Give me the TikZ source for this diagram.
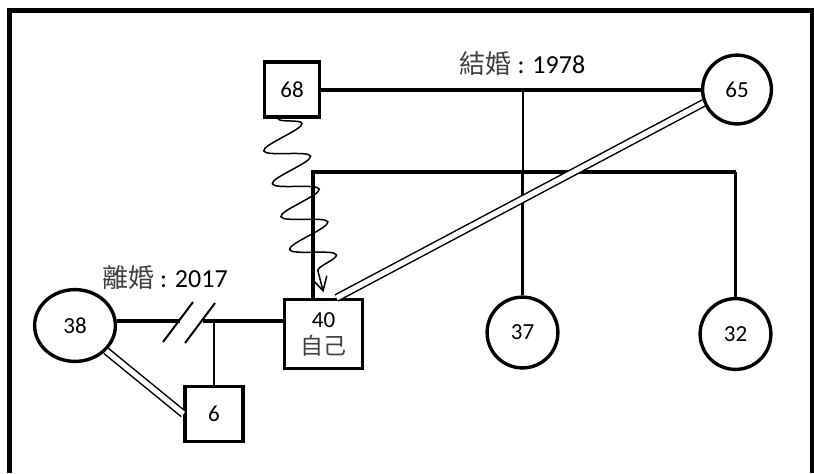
\documentclass[tikz,border=0pt]{standalone}
\usepackage{fontspec}
\setmainfont{Carlito}
\newfontfamily\cjk{Noto Sans CJK TC}
\usetikzlibrary{arrows.meta,shapes.geometric,decorations.pathmorphing}
\tikzset{
  male/.style={draw, line width=1.7pt, inner sep=0pt, align=center, font=\fontsize{11.5}{13.5}\selectfont},
  female/.style={draw, circle, line width=1.7pt, inner sep=0pt, minimum size=35.4pt, font=\fontsize{11.5}{13.5}\selectfont},
  rel/.style={line width=1.7pt},
  kid/.style={line width=1pt},
  bond/.style={double, double distance=2.6pt, line width=0.75pt},
  wavy/.style={decorate, decoration={snake, amplitude=11pt, segment length=17pt, post length=3mm}, line width=0.75pt, -{Straight Barb[length=2.4mm, width=2.6mm]}},
  lbl/.style={font=\fontsize{13}{15}\selectfont},
}

\begin{document}
\begin{tikzpicture}[x=0.5pt, y=-0.5pt]
\useasboundingbox (0,0) rectangle (814,473);
\draw[line width=2.4pt] (9.5,473) -- (9.5,10.5) -- (812,10.5) -- (812,473);

\node[male, minimum width=27.4pt, minimum height=27.4pt] (n68) at (292,89.5) {68};
\node[female, minimum size=34.4pt] (n65) at (737,89.5) {65};
\node[male, minimum width=38.9pt, minimum height=34.4pt] (n40) at (323.5,334) {40\\{\cjk\color{black!75}自己}};
\node[female] (n37) at (522.5,332.5) {37};
\node[female] (n32) at (735.5,334) {32};
\node[female, ellipse, minimum width=40.4pt, minimum height=35.9pt] (n38) at (75,325.5) {38};
\node[male, minimum width=28.9pt, minimum height=27.4pt] (n6) at (214,414) {6};

\node[lbl] (t1) at (522.5,64) {{\cjk\color{black!75}結婚} : 1978};
\node[lbl] (t2) at (165,277.5) {{\cjk\color{black!75}離婚} : 2017};

\coordinate (m1) at (522.5,90);
\coordinate (sib) at (313,172);
\coordinate (d1) at (214,321);
\coordinate (s1) at (180,321);
\coordinate (s2) at (203,321);

\draw[rel] (n68.east |- m1) -- (n65.west |- m1);
\draw[kid] (m1) -- (m1 |- sib);
\draw[rel] (sib -| n32) -- (sib) -- (sib |- n40.north);
\draw[rel] (sib -| n37) -- (n37.north);
\draw[rel] (sib -| n32) -- (n32.north);

\draw[rel] (n38.east |- d1) -- (s1);
\draw[rel] (s2) -- (n40.west |- d1);
\draw[kid] (163,342) -- (193,302);
\draw[kid] (185,343) -- (215,303);
\draw[kid] (d1) -- (n6.north -| d1);

\draw[bond] (n38) -- (n6.west);
\draw[bond] (n65.202) -- ([xshift=6.5pt]n40.north);
\draw[wavy] ([xshift=-7pt]n68.south) -- ([yshift=2.8pt]n40.north);
\end{tikzpicture}
\end{document}
